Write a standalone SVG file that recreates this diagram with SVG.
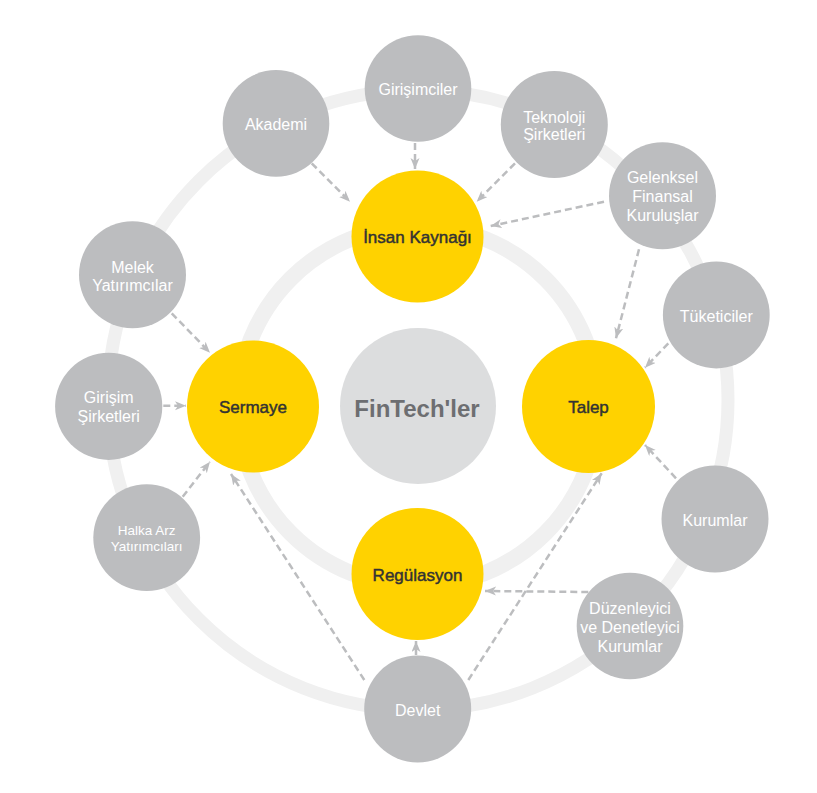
<svg xmlns="http://www.w3.org/2000/svg" width="817" height="793" viewBox="0 0 817 793">
<defs>
<marker id="ah" markerUnits="userSpaceOnUse" markerWidth="12" markerHeight="10" refX="11" refY="4.5" orient="auto" viewBox="0 0 12 10">
<path d="M0,0 L11,4.5 L0,9 L3,4.5 z" fill="#bcbdbf"/>
</marker>
</defs>
<style>
.ring{fill:none;stroke:#f0f0f0}
.g{fill:#bcbdbf}
.y{fill:#ffd200}
.c{fill:#dcddde}
.gt{font-family:"Liberation Sans",Arial,sans-serif;font-size:16px;fill:#ffffff;text-anchor:middle}
.sm{font-size:13.5px}
.yt{font-family:"Liberation Sans",Arial,sans-serif;font-size:17px;fill:#333333;stroke:#333333;stroke-width:0.45px;text-anchor:middle}
.ft{font-family:"Liberation Sans",Arial,sans-serif;font-weight:bold;font-size:24px;fill:#6d6e71;text-anchor:middle}
.cn line{stroke:#bcbdbf;stroke-width:2.5;stroke-dasharray:7 4;marker-end:url(#ah)}
</style>
<rect width="817" height="793" fill="#ffffff"/>
<g id="rings">
<circle class="ring" cx="418" cy="400" r="310" stroke-width="13"/>
<circle class="ring" cx="418" cy="406" r="180" stroke-width="16"/>
</g>
<g id="connectors" class="cn">
<line x1="415" y1="143" x2="415" y2="169"/>
<line x1="311.7" y1="163.3" x2="350" y2="201.7"/>
<line x1="515" y1="163.3" x2="476.7" y2="201.7"/>
<line x1="604" y1="201.7" x2="490.7" y2="226"/>
<line x1="639" y1="249.3" x2="616" y2="338.3"/>
<line x1="668.3" y1="343.3" x2="645" y2="367.7"/>
<line x1="171.7" y1="313.3" x2="210" y2="352.7"/>
<line x1="163.3" y1="405.7" x2="186" y2="405.7"/>
<line x1="182.7" y1="496.7" x2="210" y2="461.7"/>
<line x1="364.3" y1="680" x2="231" y2="474"/>
<line x1="416" y1="655" x2="416" y2="641"/>
<line x1="468.3" y1="680" x2="601.7" y2="473.3"/>
<line x1="676" y1="478.3" x2="645" y2="445"/>
<line x1="588.3" y1="592" x2="485" y2="591"/>
</g>
<g id="fintech"><circle class="c" cx="418" cy="406" r="78"/><text class="ft" x="417" y="417">FinTech'ler</text></g>
<g id="insan"><circle class="y" cx="417.5" cy="236.5" r="66"/><text class="yt" x="417.5" y="242.7">İnsan Kaynağı</text></g>
<g id="sermaye"><circle class="y" cx="253" cy="406.5" r="66"/><text class="yt" x="253" y="413.3">Sermaye</text></g>
<g id="talep"><circle class="y" cx="588.5" cy="406.5" r="66.5"/><text class="yt" x="588.5" y="413.3">Talep</text></g>
<g id="regulasyon"><circle class="y" cx="417.5" cy="574" r="66"/><text class="yt" x="417.5" y="581">Regülasyon</text></g>
<g id="girisimciler"><circle class="g" cx="418" cy="88.5" r="53.3"/><text class="gt" x="418" y="95">Girişimciler</text></g>
<g id="akademi"><circle class="g" cx="276" cy="123.4" r="53.3"/><text class="gt" x="276" y="130">Akademi</text></g>
<g id="teknoloji"><circle class="g" cx="554.3" cy="124.5" r="53.5"/><text class="gt" x="554.3" y="122.7">Teknoloji</text><text class="gt" x="554.3" y="140">Şirketleri</text></g>
<g id="gelenksel"><circle class="g" cx="662.5" cy="195.8" r="53.5"/><text class="gt" x="662.5" y="182.7">Gelenksel</text><text class="gt" x="662.5" y="202">Finansal</text><text class="gt" x="662.5" y="221">Kuruluşlar</text></g>
<g id="tuketiciler"><circle class="g" cx="716.3" cy="315" r="53.4"/><text class="gt" x="716.3" y="321.7">Tüketiciler</text></g>
<g id="melek"><circle class="g" cx="132.5" cy="274.7" r="53.5"/><text class="gt" x="132.5" y="272.7">Melek</text><text class="gt" x="132.5" y="291">Yatırımcılar</text></g>
<g id="girisim"><circle class="g" cx="108.7" cy="406.3" r="53.6"/><text class="gt" x="108.7" y="402.7">Girişim</text><text class="gt" x="108.7" y="421.7">Şirketleri</text></g>
<g id="halka"><circle class="g" cx="146.7" cy="537.7" r="53.4"/><text class="gt sm" x="146.7" y="534.5">Halka Arz</text><text class="gt sm" x="146.7" y="550.5">Yatırımcıları</text></g>
<g id="devlet"><circle class="g" cx="417.7" cy="709" r="53.5"/><text class="gt" x="417.7" y="716">Devlet</text></g>
<g id="kurumlar"><circle class="g" cx="715" cy="519" r="53.5"/><text class="gt" x="715" y="526">Kurumlar</text></g>
<g id="duzenleyici"><circle class="g" cx="630" cy="626" r="53.3"/><text class="gt" x="630" y="614">Düzenleyici</text><text class="gt" x="630" y="633.3">ve Denetleyici</text><text class="gt" x="630" y="652.3">Kurumlar</text></g>
</svg>
